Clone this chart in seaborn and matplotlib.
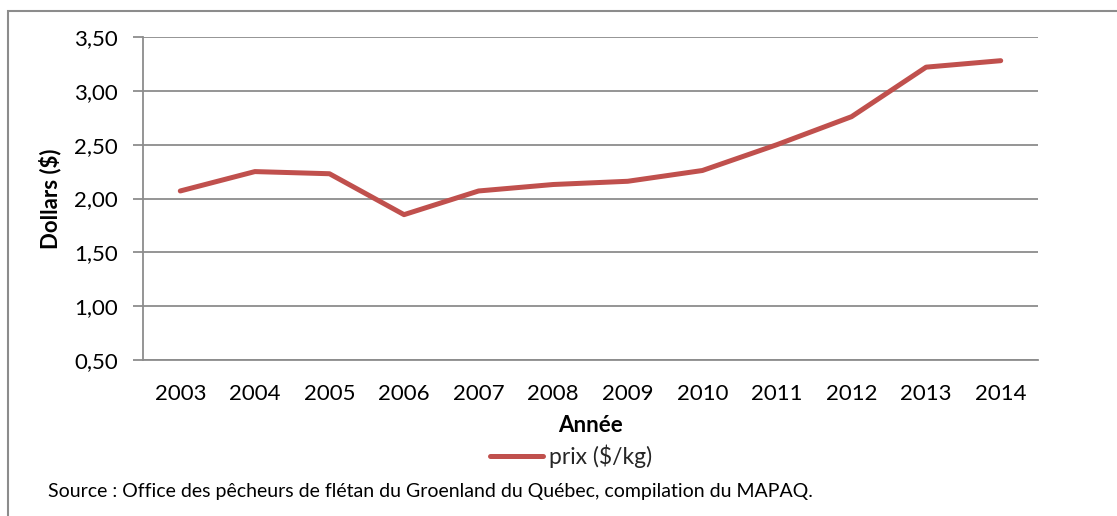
import matplotlib
matplotlib.use("Agg")
import matplotlib.pyplot as plt
import seaborn as sns
import pandas as pd
from matplotlib.patches import Rectangle
from matplotlib.ticker import FuncFormatter

years = ["2003", "2004", "2005", "2006", "2007", "2008", "2009", "2010", "2011", "2012", "2013", "2014"]
prices = [2.07, 2.25, 2.23, 1.85, 2.07, 2.13, 2.16, 2.26, 2.50, 2.76, 3.22, 3.28]
series_name = "prix ($/kg)"
y_ticks = [0.5, 1.0, 1.5, 2.0, 2.5, 3.0, 3.5]

sns.set_theme(style="white")
plt.rcParams['font.family'] = ['Lato', 'DejaVu Sans']

df = pd.DataFrame({"Année": years, "prix": prices})

fig = plt.figure(figsize=(11.17, 5.16), dpi=100)
ax = fig.add_axes([143/1117, 1-360/516, (1038-143)/1117, (360-37)/516])

sns.lineplot(data=df, x="Année", y="prix", ax=ax, color="#C0504D", linewidth=3.6,
             label=series_name, legend=False, solid_capstyle="round")

ax.set_xlim(-0.5, len(years)-0.5)
ax.set_ylim(0.5, 3.5)
ax.set_yticks(y_ticks)
ax.yaxis.set_major_formatter(FuncFormatter(lambda v, p: f"{v:.2f}".replace(".", ",")))
ax.grid(axis="y", color="#8c8c8c", linewidth=1.3)
ax.set_axisbelow(True)
for s in ["top", "right"]:
    ax.spines[s].set_visible(False)
for s in ["left", "bottom"]:
    ax.spines[s].set_color("#8c8c8c")
    ax.spines[s].set_linewidth(1.3)
ax.tick_params(axis="y", which="major", left=True, length=7, width=1.3, color="#8c8c8c",
               labelsize=16, pad=11, labelcolor="black")
ax.tick_params(axis="x", bottom=False, labelsize=16, pad=11, labelcolor="black")
ax.set_xlabel("Année", fontsize=16, fontweight="bold", labelpad=8, color="black")
ax.set_ylabel("Dollars ($)", fontsize=16, fontweight="bold", labelpad=9, color="black")

handles, labels = ax.get_legend_handles_labels()
fig.legend(handles, labels, loc="center", bbox_to_anchor=(571/1117, 1-456/516), frameon=False,
           fontsize=16.5, handlelength=2.3, handletextpad=0.25, borderpad=0)

fig.text(48/1117, 1-491/516, "Source : Office des pêcheurs de flétan du Groenland du Québec, compilation du MAPAQ.",
         fontsize=14, va="center", ha="left", color="black")

fig.patches.append(Rectangle((8/1117, -0.1), 1.2, 1-11/516+0.1, transform=fig.transFigure,
                             fill=False, edgecolor="#8c8c8c", linewidth=1.5, figure=fig))

fig.savefig("out.png", dpi=100)
